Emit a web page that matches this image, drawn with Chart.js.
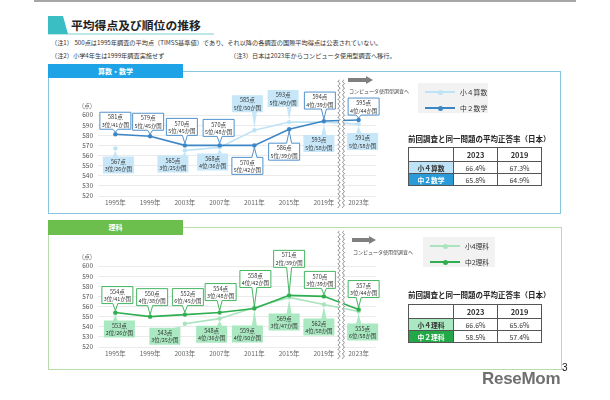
<!DOCTYPE html>
<html><head><meta charset="utf-8">
<script src="https://cdn.jsdelivr.net/npm/chart.js@4.4.1/dist/chart.umd.min.js"></script>
<style>
body{margin:0;width:610px;height:400px;background:#fff;position:relative;overflow:hidden;font-family:"Noto Sans CJK JP","Noto Sans",sans-serif;color:#333}
.a{position:absolute;white-space:nowrap}
.note{font-size:6.2px;color:#333;line-height:8px}
table.t{position:absolute;border-collapse:collapse;font-size:7px;color:#333}
table.t td{border:1px solid #555;text-align:center;padding:0;line-height:10px}
table.t td.h{font-weight:bold;font-size:7.5px}
.lg{position:absolute;background:#f2f2f2}
.lgrow{position:absolute;left:0;height:10px;width:100%}
.lgline{position:absolute;height:1.6px;top:4.2px}
.lgdot{position:absolute;width:5px;height:5px;border-radius:50%;top:2.5px}
.lgtxt{position:absolute;font-size:6.8px;top:0;line-height:10px;color:#333}
</style></head><body>
<div class="a" style="left:34px;top:0;width:542px;height:1.5px;background:#a6a6a6"></div>
<div class="a" style="left:48px;top:33px;width:166px;height:2px;background:#bfe6e8"></div>
<div class="a" style="left:48px;top:16px;width:20px;height:18px;background:#3bbdc4;clip-path:polygon(0 0,75% 0,100% 100%,0 100%)"></div>
<div class="a" style="left:71px;top:17px;font-size:11.8px;font-weight:bold;color:#222;line-height:16px">平均得点及び順位の推移</div>
<div class="a note" style="left:51px;top:39px">（注1） 500点は1995年調査の平均点（TIMSS基準値）であり、それ以降の各調査の国際平均得点は公表されていない。</div>
<div class="a note" style="left:51px;top:52px">（注2）小学4年生は1999年調査実施せず</div>
<div class="a note" style="left:230px;top:52px">（注3）日本は2023年からコンピュータ使用型調査へ移行。</div>

<!-- math panel -->
<div class="a" style="left:48px;top:71px;width:511px;height:141px;border:1.5px solid #86c6df"></div>
<div class="a" style="left:48px;top:64px;width:135px;height:14px;background:#1ea4e6;color:#fff;font-weight:bold;font-size:7px;line-height:14px;text-align:center">算数・数学</div>
<canvas id="cm" class="a" width="330" height="134" style="left:50px;top:78px"></canvas>
<div class="a" style="left:348px;top:78px;width:18px;height:4px;background:#7f7f7f"></div>
<div class="a" style="left:366px;top:76px;width:0;height:0;border-top:4px solid transparent;border-bottom:4px solid transparent;border-left:7px solid #7f7f7f"></div>
<div class="a" style="left:349px;top:87px;font-size:5px;color:#444">コンピュータ使用型調査へ</div>
<div id="lgm" class="lg" style="left:418px;top:83px;width:70px;height:30px"></div>
<div id="ttm" class="a" style="left:408px;top:133px;font-size:7.5px;font-weight:bold;color:#222">前回調査と同一問題の平均正答率（日本）</div>
<table id="tbm" class="t" style="left:408px;top:147px"></table>

<!-- science panel -->
<div class="a" style="left:48px;top:227px;width:512px;height:141px;border:1.5px solid #b6dca9"></div>
<div class="a" style="left:48px;top:220px;width:135px;height:15px;background:#6cbf4c;color:#fff;font-weight:bold;font-size:7px;line-height:15px;text-align:center">理科</div>
<canvas id="cs" class="a" width="330" height="134" style="left:50px;top:229px"></canvas>
<div class="a" style="left:352px;top:238px;width:17px;height:4px;background:#7f7f7f"></div>
<div class="a" style="left:369px;top:236px;width:0;height:0;border-top:4px solid transparent;border-bottom:4px solid transparent;border-left:7px solid #7f7f7f"></div>
<div class="a" style="left:353px;top:248px;font-size:5px;color:#444">コンピュータ使用型調査へ</div>
<div id="lgs" class="lg" style="left:423px;top:237px;width:72px;height:30px"></div>
<div id="tts" class="a" style="left:408px;top:289px;font-size:7.5px;font-weight:bold;color:#222">前回調査と同一問題の平均正答率（日本）</div>
<table id="tbs" class="t" style="left:408px;top:304px"></table>

<div class="a" style="left:482px;top:369px;font-family:'Liberation Sans',Arial,sans-serif;font-weight:bold;font-size:17px;color:#6f6f6f;letter-spacing:-0.3px">ReseMom</div>
<div class="a" style="left:562px;top:362px;font-family:'Liberation Sans',Arial,sans-serif;font-size:10px;color:#111">3</div>

<script>
// ---- data ----
const years = ['1995年','1999年','2003年','2007年','2011年','2015年','2019年','2023年'];
const mathG8 = [581,579,570,570,570,586,594,595];
const mathG4 = [567,null,565,568,585,593,593,591];
const mathG8Rank = ['3位/41か国','5位/45か国','5位/45か国','5位/48か国','5位/42か国','5位/39か国','4位/39か国','4位/44か国'];
const mathG4Rank = ['3位/26か国',null,'3位/25か国','4位/36か国','5位/50か国','5位/49か国','5位/58か国','5位/58か国'];
const sciG8 = [554,550,552,554,558,571,570,557];
const sciG4 = [553,null,543,548,559,569,562,555];
const sciG8Rank = ['3位/41か国','4位/38か国','6位/45か国','3位/48か国','4位/42か国','2位/39か国','3位/39か国','3位/44か国'];
const sciG4Rank = ['2位/26か国',null,'3位/25か国','4位/36か国','4位/50か国','3位/47か国','4位/58か国','6位/58か国'];
const scoreMin = 520, scoreMax = 600, scoreStep = 10;
const mathSeriesNames = ['小４算数','中２数学'];
const sciSeriesNames = ['小4理科','中2理科'];
const tableYears = ['2023','2019'];
const mathTableRows = ['小４算数','中２数学'];
const mathTable = [[66.4,67.3],[65.8,64.9]];
const sciTableRows = ['小４理科','中２理科'];
const sciTable = [[66.6,65.6],[58.5,57.4]];

// ---- callout layout (pixel offsets from each point, per category) ----
const mathLayout = {aboveGap:[5,6,10,9,18,15,12,5], belowGap:[8,8,5,6,12,14,13,9],
                    aboveShift:[0,-2,-3,-1,-7,-6,-4,5], belowShift:[3,0,-12,-7,-7,-5,-5,4]};
const sciLayout  = {aboveGap:[9,11,9,12,21,28,8,12], belowGap:[7,7,4,7,18,16,14,12],
                    aboveShift:[2,2,3,1,1,0,-4,5], belowShift:[4,0,-20,-8,-7,-5,-5,4]};

const FONT = '"Noto Sans CJK JP","Noto Sans",sans-serif';

function legend(id, names, light, dark){
  const el = document.getElementById(id);
  const ys=[4,20];
  [light,dark].forEach((c,i)=>{
    const r=document.createElement('div'); r.className='lgrow'; r.style.top=ys[i]+'px';
    r.innerHTML='<div class="lgline" style="left:7px;width:30px;background:'+c+'"></div>'+
      '<div class="lgdot" style="left:19.5px;background:'+c+'"></div>'+
      '<div class="lgtxt" style="left:42px">'+names[i]+'</div>';
    el.appendChild(r);
  });
}
function table(id, rows, vals, bgs, fgs){
  const t=document.getElementById(id);
  let h='<tr style="height:14px"><td style="width:44px"></td>'+tableYears.map(y=>'<td class="h" style="width:43px">'+y+'</td>').join('')+'</tr>';
  rows.forEach((r,i)=>{
    h+='<tr style="height:12px"><td class="h" style="font-size:6.8px;background:'+bgs[i]+';color:'+fgs[i]+'">'+r+'</td>'+
      vals[i].map(v=>'<td>'+v.toFixed(1)+'%</td>').join('')+'</tr>';
  });
  t.innerHTML=h;
}

function drawCallout(ctx, px, py, cx, above, gap, l1, l2, fill, stroke){
  const w=31, h=17;
  const top = above ? py-gap-h : py+gap;
  const bottom = top+h, left=cx-w/2, right=cx+w/2;
  const bx = Math.max(left+4, Math.min(right-4, px));
  ctx.beginPath();
  if(above){
    ctx.moveTo(left,top); ctx.lineTo(right,top); ctx.lineTo(right,bottom);
    ctx.lineTo(bx+2.5,bottom); ctx.lineTo(px,py-2); ctx.lineTo(bx-2.5,bottom);
    ctx.lineTo(left,bottom); ctx.closePath();
  } else {
    ctx.moveTo(left,top); ctx.lineTo(bx-2.5,top); ctx.lineTo(px,py+2); ctx.lineTo(bx+2.5,top);
    ctx.lineTo(right,top); ctx.lineTo(right,bottom); ctx.lineTo(left,bottom); ctx.closePath();
  }
  ctx.fillStyle=fill; ctx.fill();
  if(stroke){ctx.strokeStyle=stroke; ctx.lineWidth=0.9; ctx.stroke();}
  ctx.fillStyle='#333'; ctx.textAlign='center'; ctx.textBaseline='middle';
  ctx.font='5.6px '+FONT; ctx.fillText(l1, cx, top+5);
  ctx.font='5.4px '+FONT; ctx.fillText(l2, cx, top+12.5);
}

function makeChart(id, g8, g4, r8, r4, dark, light, boxFill, L){
  const deco = {
    id:'deco',
    afterDraw(chart){
      const ctx=chart.ctx, xs=chart.scales.x, ys=chart.scales.y, ca=chart.chartArea;
      ctx.save();
      ctx.fillStyle='#666'; ctx.font='6px '+FONT; ctx.textAlign='right'; ctx.textBaseline='middle';
      ctx.fillText('(点)', ca.left-6, ca.top-9);
      const bxp=(xs.getPixelForValue(6)+xs.getPixelForValue(7))/2;
      const yT=ca.top-35, yB=ca.bottom+12;
      ctx.fillStyle='#fff'; ctx.fillRect(bxp-2.2,yT,4.4,yB-yT);
      ctx.strokeStyle='#555'; ctx.lineWidth=0.7;
      [-2.2,2.2].forEach(off=>{
        ctx.beginPath();
        for(let y=yT;y<=yB;y+=0.5){
          const x=bxp+off+0.9*Math.sin(y*2*Math.PI/4.5);
          if(y===yT) ctx.moveTo(x,y); else ctx.lineTo(x,y);
        }
        ctx.stroke();
      });
      const n=years.length;
      for(let i=0;i<n;i++){
        const px=xs.getPixelForValue(i);
        const a=g8[i], b=g4[i];
        const g4Above = b!=null && (b-a)>3;
        const y8=ys.getPixelForValue(a);
        const up8 = !g4Above;
        drawCallout(ctx, px, y8, px+(up8?L.aboveShift[i]:L.belowShift[i]), up8,
                    up8?L.aboveGap[i]:L.belowGap[i], a+'点', r8[i], '#fff', dark);
        if(b!=null){
          const y4=ys.getPixelForValue(b);
          drawCallout(ctx, px, y4, px+(g4Above?L.aboveShift[i]:L.belowShift[i]), g4Above,
                      g4Above?L.aboveGap[i]:L.belowGap[i], b+'点', r4[i], boxFill, null);
        }
      }
      ctx.restore();
    }
  };
  new Chart(document.getElementById(id),{
    type:'line',
    data:{labels:years,datasets:[
      {data:g8,borderColor:dark,backgroundColor:dark,borderWidth:1.6,pointRadius:2.2,pointBorderWidth:0,tension:0,spanGaps:false},
      {data:g4,borderColor:light,backgroundColor:light,borderWidth:1.6,pointRadius:2.2,pointBorderWidth:0,tension:0,spanGaps:false}
    ]},
    options:{
      responsive:false,animation:false,devicePixelRatio:1,
      layout:{padding:{top:37,right:4,bottom:0,left:0}},
      plugins:{legend:{display:false},tooltip:{enabled:false}},
      scales:{
        x:{offset:true,grid:{display:false,drawTicks:false},border:{display:false},
           ticks:{font:{size:6.5,family:FONT},color:'#666',padding:3,maxRotation:0,autoSkip:false},
           afterFit(s){s.height=16;}},
        y:{min:scoreMin,max:scoreMax,
           ticks:{stepSize:scoreStep,autoSkip:false,font:{size:6.5,family:FONT},color:'#555',padding:5},
           grid:{color:'#e6e6e6',drawTicks:false,lineWidth:0.8},border:{display:false},
           afterFit(s){s.width=48;}}
      }
    },
    plugins:[deco]
  });
}

legend('lgm', mathSeriesNames, '#bfe3f6', '#3d86c6');
legend('lgs', sciSeriesNames, '#a9e4bd', '#2fae4f');
table('tbm', mathTableRows, mathTable, ['#bfe3f6','#2b9ad8'], ['#333','#fff']);
table('tbs', sciTableRows, sciTable, ['#a9e8c0','#22a846'], ['#333','#fff']);
makeChart('cm', mathG8, mathG4, mathG8Rank, mathG4Rank, '#3d86c6', '#bfe3f6', '#c7e7f8', mathLayout);
makeChart('cs', sciG8, sciG4, sciG8Rank, sciG4Rank, '#2fae4f', '#a9e4bd', '#a9e8c0', sciLayout);
</script>
</body></html>
